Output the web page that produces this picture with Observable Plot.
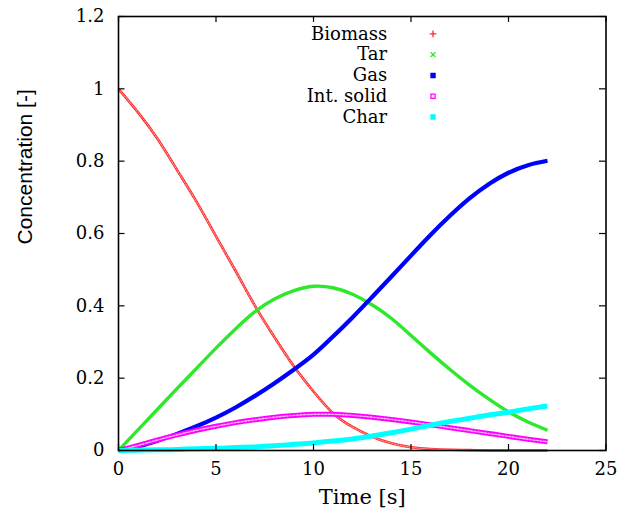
<!DOCTYPE html>
<html><head><meta charset="utf-8">
<script src="https://cdn.jsdelivr.net/npm/d3@7"></script>
<script src="https://cdn.jsdelivr.net/npm/@observablehq/plot@0.6"></script>
<style>
body{margin:0;background:#fff}
#chart{width:619px;height:520px}
</style>
</head><body><div id="chart"></div>
<script>
// ---- data ----
const time     = [0,1,2,3,4,5,6,7,8,9,10,11,12,13,14,15,16,17,18,19,20,21,22];
const biomass  = [1.0,0.935,0.862,0.776,0.688,0.592,0.497,0.400,0.313,0.232,0.163,0.103,0.065,0.038,0.020,0.009,0.004,0.002,0.001,0.0,0.0,0.0,0.0];
const tar      = [0,0.057,0.114,0.171,0.227,0.283,0.336,0.384,0.419,0.442,0.454,0.450,0.432,0.403,0.365,0.318,0.270,0.224,0.181,0.142,0.107,0.079,0.056];
const gas      = [0,0.011,0.027,0.046,0.067,0.091,0.119,0.151,0.186,0.224,0.265,0.315,0.368,0.424,0.481,0.539,0.596,0.649,0.697,0.737,0.768,0.789,0.801];
const intSolid = [0,0.014,0.029,0.043,0.056,0.067,0.077,0.085,0.092,0.097,0.100,0.100,0.097,0.092,0.086,0.079,0.071,0.063,0.055,0.047,0.039,0.031,0.024];
const charV    = [0,0.001,0.002,0.003,0.005,0.006,0.008,0.010,0.013,0.017,0.021,0.026,0.032,0.040,0.049,0.059,0.070,0.080,0.089,0.098,0.106,0.115,0.123];

const seriesNames  = ["Biomass","Tar","Gas","Int. solid","Char"];
const seriesColors = ["#ff2a2a","#2ee82e","#0000ff","#ff00ff","#00ffff"];
const seriesSymbols = ["plus","times","square","square","square"];
const xTicks = [0,5,10,15,20,25];
const yTicks = [0,0.2,0.4,0.6,0.8,1,1.2];
const xLabel = "Time [s]";
const yLabel = "Concentration [-]";

const seriesValues = [biomass, tar, gas, intSolid, charV];
const rows = seriesNames.flatMap((name, k) =>
  time.map((t, i) => ({series: name, t, v: seriesValues[k][i]})));
const legendRows = seriesNames.map((name, i) => ({name, i}));

const widths = {"Biomass": 2.6, "Tar": 3.4, "Gas": 4.2, "Int. solid": 5, "Char": 5};
const serifStack = "DejaVu Serif";
const sansStack = "Liberation Sans";

const lineFor = (name, k) => Plot.line(rows.filter(d => d.series === name), {
  x: "t", y: "v", stroke: seriesColors[k], strokeWidth: widths[name],
  curve: "natural", strokeLinecap: "butt"
});

const plot = Plot.plot({
  width: 619, height: 520,
  marginLeft: 118, marginRight: 13.5, marginTop: 16, marginBottom: 70,
  x: {domain: [0, 25]},
  y: {domain: [0, 1.2]},
  style: {background: "#fff", color: "#000", fontFamily: serifStack},
  marks: [
    lineFor("Biomass", 0),
    Plot.line(rows.filter(d => d.series === "Biomass"), {x: "t", y: "v", stroke: "#ffb0b0", strokeWidth: 1, strokeDasharray: "1.5,1.5", curve: "natural"}),
    lineFor("Tar", 1),
    lineFor("Gas", 2),
    lineFor("Int. solid", 3),
    Plot.line(rows.filter(d => d.series === "Int. solid"), {x: "t", y: "v", stroke: "#f9b8f9", strokeWidth: 1.4, strokeDasharray: "2,1.5", curve: "natural"}),
    lineFor("Char", 4),
    // inward ticks (gnuplot style, mirrored)
    Plot.tickX(xTicks, {x: d => d, insetTop: 428, stroke: "#000", strokeWidth: 1.2}),
    Plot.tickX(xTicks, {x: d => d, insetBottom: 428, stroke: "#000", strokeWidth: 1.2}),
    Plot.tickY(yTicks, {y: d => d, insetRight: 481, stroke: "#000", strokeWidth: 1.2}),
    Plot.tickY(yTicks, {y: d => d, insetLeft: 481, stroke: "#000", strokeWidth: 1.2}),
    Plot.frame({stroke: "#000", strokeWidth: 1.6}),
    Plot.axisX(xTicks, {tickSize: 0, tickPadding: 12, fontSize: 18, label: null, fontFamily: serifStack}),
    Plot.axisY(yTicks, {tickSize: 0, tickPadding: 14, fontSize: 18, label: null, fontFamily: serifStack, tickFormat: d => String(d)}),
    Plot.text([xLabel], {frameAnchor: "bottom", dy: 53, fontSize: 21, fill: "#000", fontFamily: serifStack}),
    Plot.text([yLabel], {frameAnchor: "left", rotate: -90, dx: -93, dy: 11, fontSize: 21, fill: "#000", fontFamily: sansStack}),
    // legend
    Plot.text(legendRows, {x: () => 13.78, y: d => 1.152 - d.i * 0.0575, text: "name", textAnchor: "end", fontSize: 18, fill: "#000", fontFamily: serifStack}),
    Plot.dot(legendRows, {x: () => 16.13, y: d => 1.152 - d.i * 0.0575, symbol: d => seriesSymbols[d.i], r: 2.3,
      stroke: d => seriesColors[d.i], fill: d => (d.name === "Gas" || d.name === "Char") ? seriesColors[d.i] : "none", strokeWidth: 1.3})
  ]
});
document.getElementById("chart").append(plot);
</script>
</body></html>
